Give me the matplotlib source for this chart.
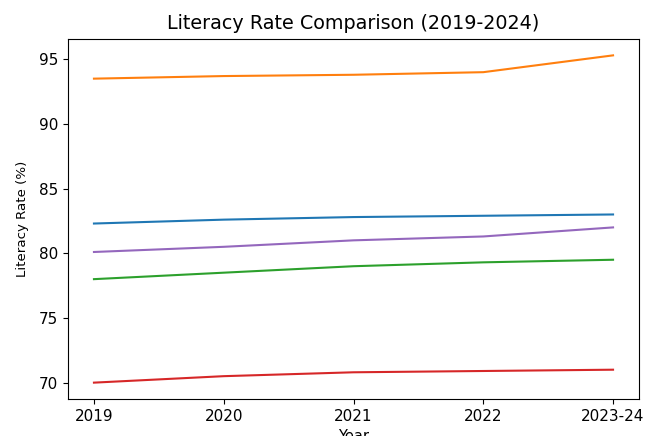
import matplotlib
matplotlib.use("Agg")
import matplotlib.pyplot as plt

years = ["2019", "2020", "2021", "2022", "2023-24"]
series_a = [82.3, 82.6, 82.8, 82.9, 83.0]   # blue
series_b = [93.5, 93.7, 93.8, 94.0, 95.3]   # orange
series_c = [78.0, 78.5, 79.0, 79.3, 79.5]   # green
series_d = [70.0, 70.5, 70.8, 70.9, 71.0]   # red
series_e = [80.1, 80.5, 81.0, 81.3, 82.0]   # purple

fig = plt.figure(figsize=(6.46, 4.36), dpi=100)
ax = fig.add_axes([68 / 646, 1 - 399 / 436, (639 - 68) / 646, (399 - 39) / 436])
for s in [series_a, series_b, series_c, series_d, series_e]:
    ax.plot(years, s)
ax.set_title("Literacy Rate Comparison (2019-2024)", fontsize=13.8, pad=7)
ax.set_xlabel("Year", fontsize=10.5)
ax.set_ylabel("Literacy Rate (%)", fontsize=9.6, labelpad=7)
ax.tick_params(labelsize=11)
fig.savefig("out.png", dpi=100)
